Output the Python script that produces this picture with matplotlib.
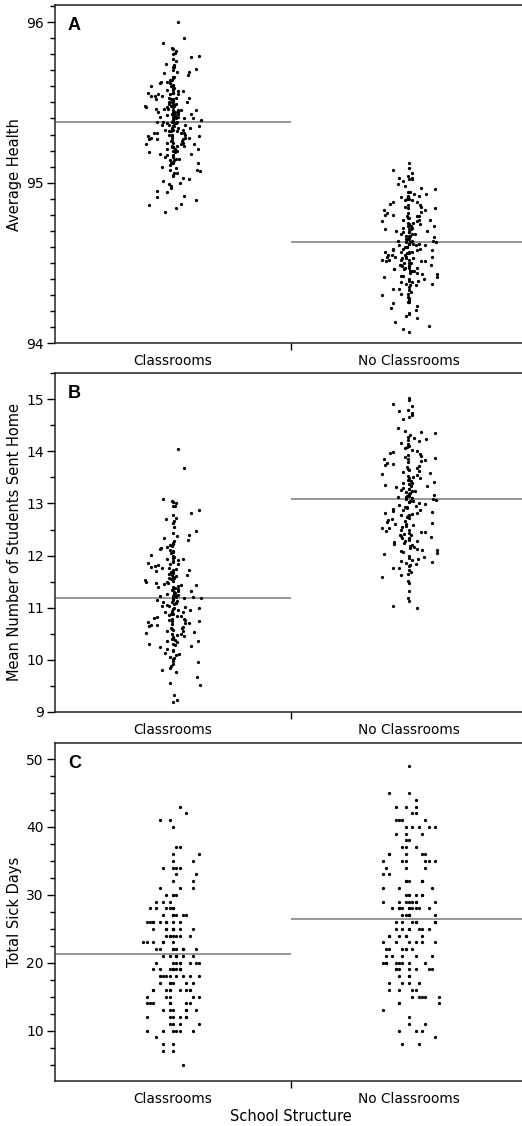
import numpy as np
import matplotlib
matplotlib.use("Agg")
import matplotlib.pyplot as plt
from matplotlib.ticker import MultipleLocator

groups = ["Classrooms", "No Classrooms"]

# Panel A: average health
health_classrooms = [
    96.00, 95.90, 95.87,
    95.84, 95.83, 95.82, 95.81, 95.80,
    95.79, 95.78, 95.77, 95.76,
    95.74, 95.73, 95.72, 95.72, 95.71, 95.70,
    95.69, 95.69, 95.68, 95.67, 95.66, 95.66, 95.65,
    95.64, 95.64, 95.63, 95.63, 95.62, 95.62, 95.61, 95.61, 95.60, 95.60,
    95.59, 95.59, 95.58, 95.58, 95.57, 95.57, 95.56, 95.56, 95.56, 95.55, 95.55, 95.55,
    95.54, 95.54, 95.54, 95.53, 95.53, 95.53, 95.52, 95.52, 95.52, 95.51, 95.51, 95.50, 95.50, 95.50,
    95.49, 95.49, 95.49, 95.48, 95.48, 95.48, 95.47, 95.47, 95.47, 95.46, 95.46, 95.46,
    95.45, 95.45, 95.45, 95.45,
    95.44, 95.44, 95.44, 95.44, 95.43, 95.43, 95.43, 95.43, 95.42, 95.42, 95.42,
    95.41, 95.41, 95.41, 95.41, 95.40, 95.40, 95.40,
    95.39, 95.39, 95.39, 95.39, 95.38, 95.38, 95.38, 95.38, 95.37, 95.37, 95.37, 95.37,
    95.36, 95.36, 95.36, 95.35, 95.35, 95.35,
    95.34, 95.34, 95.34, 95.33, 95.33, 95.33, 95.33, 95.32, 95.32, 95.32,
    95.31, 95.31, 95.31, 95.31, 95.30, 95.30, 95.30,
    95.29, 95.29, 95.29, 95.28, 95.28, 95.28, 95.28, 95.27, 95.27, 95.27,
    95.26, 95.26, 95.26, 95.25, 95.25, 95.25,
    95.24, 95.24, 95.24, 95.23, 95.23, 95.23, 95.22, 95.22, 95.22, 95.21, 95.21, 95.21, 95.20, 95.20,
    95.19, 95.19, 95.18, 95.18, 95.17, 95.17, 95.16, 95.16, 95.15, 95.15,
    95.14, 95.14, 95.13, 95.13, 95.12, 95.12, 95.12, 95.11, 95.10,
    95.09, 95.08, 95.08, 95.07, 95.06, 95.06, 95.05,
    95.04, 95.03, 95.02, 95.01, 95.00,
    94.99, 94.98, 94.97, 94.95,
    94.94, 94.92, 94.91,
    94.89, 94.87, 94.86,
    94.84, 94.82,
]
health_no_classrooms = [
    95.12,
    95.09, 95.08, 95.06,
    95.04, 95.03, 95.03, 95.02, 95.02, 95.01,
    94.99, 94.98, 94.97, 94.96,
    94.94, 94.94, 94.93, 94.93, 94.92, 94.92, 94.91, 94.91, 94.90, 94.90,
    94.89, 94.89, 94.88, 94.88, 94.87, 94.86, 94.86, 94.85, 94.85,
    94.84, 94.84, 94.83, 94.83, 94.82, 94.81, 94.81, 94.80, 94.80,
    94.79, 94.79, 94.79, 94.78, 94.78, 94.77, 94.77, 94.77, 94.76, 94.76, 94.75, 94.75,
    94.74, 94.74, 94.74, 94.73, 94.73, 94.73, 94.72, 94.72, 94.71, 94.71, 94.71, 94.70, 94.70,
    94.69, 94.69, 94.69, 94.68, 94.68, 94.68, 94.67, 94.67, 94.67, 94.66, 94.66, 94.65, 94.65, 94.65,
    94.64, 94.64, 94.64, 94.63, 94.63, 94.63, 94.62, 94.62, 94.62, 94.62,
    94.61, 94.61, 94.61, 94.60, 94.60, 94.60,
    94.59, 94.59, 94.59, 94.58, 94.58, 94.58, 94.57, 94.57, 94.57, 94.57,
    94.56, 94.56, 94.56, 94.55, 94.55, 94.55,
    94.54, 94.54, 94.54, 94.54, 94.53, 94.53, 94.53, 94.52, 94.52, 94.52, 94.52,
    94.51, 94.51, 94.51, 94.50, 94.50, 94.50,
    94.49, 94.49, 94.49, 94.48, 94.48, 94.48, 94.47, 94.47, 94.47,
    94.46, 94.46, 94.46, 94.45, 94.45, 94.45,
    94.44, 94.44, 94.43, 94.43, 94.42, 94.42, 94.41, 94.41, 94.40, 94.40,
    94.39, 94.39, 94.38, 94.38, 94.37, 94.37, 94.36, 94.36, 94.35,
    94.34, 94.34, 94.33, 94.32, 94.31, 94.31, 94.30,
    94.29, 94.28, 94.27, 94.26, 94.26, 94.25,
    94.23, 94.22, 94.21,
    94.19, 94.18, 94.17, 94.16,
    94.13, 94.11,
    94.09, 94.07,
]

# Panel B: mean number of students sent home
sent_home_classrooms = [
    14.05, 13.68,
    13.08, 13.05, 13.02, 13.00,
    12.96, 12.95, 12.88, 12.82, 12.77,
    12.73, 12.70, 12.66, 12.62, 12.55,
    12.48, 12.44, 12.40, 12.37, 12.33, 12.30, 12.27,
    12.24, 12.22, 12.20, 12.18, 12.16, 12.14, 12.12, 12.10, 12.08, 12.06, 12.04, 12.01,
    11.99, 11.97, 11.96, 11.94, 11.93, 11.91, 11.89, 11.88,
    11.86, 11.84, 11.83, 11.81, 11.80, 11.78, 11.77, 11.76,
    11.74, 11.73, 11.72, 11.70, 11.69, 11.68, 11.66, 11.65, 11.63,
    11.62, 11.60, 11.59, 11.57, 11.56, 11.54, 11.53, 11.52, 11.50,
    11.49, 11.48, 11.47, 11.45, 11.44, 11.43, 11.42, 11.40, 11.39, 11.38,
    11.36, 11.35, 11.34, 11.32, 11.31, 11.30, 11.29, 11.27, 11.26, 11.25,
    11.24, 11.23, 11.22, 11.21, 11.20, 11.19, 11.18, 11.17, 11.16, 11.15, 11.14,
    11.12, 11.11, 11.10, 11.09, 11.08, 11.07, 11.05, 11.04, 11.03, 11.02, 11.00,
    10.99, 10.98, 10.96, 10.95, 10.94, 10.92, 10.91, 10.90, 10.88, 10.87,
    10.86, 10.84, 10.83, 10.82, 10.80, 10.79, 10.78, 10.77, 10.76, 10.75,
    10.74, 10.73, 10.71, 10.70, 10.68, 10.67, 10.66, 10.64, 10.63,
    10.61, 10.60, 10.59, 10.57, 10.56, 10.55, 10.53, 10.52, 10.50,
    10.49, 10.47, 10.45, 10.43, 10.42, 10.40, 10.38, 10.36, 10.35, 10.33, 10.31, 10.30, 10.28, 10.26,
    10.24, 10.21, 10.19, 10.16, 10.13, 10.11, 10.09, 10.06, 10.03, 10.01,
    9.98, 9.95, 9.91, 9.87, 9.84, 9.80, 9.77,
    9.66, 9.55, 9.52,
    9.32,
    9.22, 9.18,
]
sent_home_no_classrooms = [
    15.03, 14.98, 14.92, 14.88, 14.80, 14.77,
    14.73, 14.70, 14.66, 14.62,
    14.45, 14.40, 14.38, 14.35, 14.31, 14.28, 14.26,
    14.24, 14.22, 14.20, 14.17, 14.14, 14.10, 14.08, 14.06, 14.03, 14.01,
    13.99, 13.97, 13.95, 13.94, 13.92, 13.90, 13.88, 13.86, 13.85, 13.83, 13.81, 13.79, 13.78, 13.76,
    13.74, 13.72, 13.70, 13.68, 13.66, 13.64, 13.62, 13.60, 13.58, 13.56, 13.54, 13.52, 13.50,
    13.49, 13.48, 13.46, 13.45, 13.43, 13.42, 13.40, 13.39, 13.37,
    13.36, 13.34, 13.33, 13.31, 13.30, 13.28, 13.27, 13.26,
    13.24, 13.23, 13.22, 13.20, 13.19, 13.18, 13.17, 13.15, 13.14, 13.13,
    13.12, 13.10, 13.09, 13.08, 13.07, 13.05, 13.04, 13.03, 13.02, 13.00,
    12.99, 12.97, 12.96, 12.94, 12.93, 12.91, 12.90, 12.88, 12.87,
    12.85, 12.84, 12.82, 12.81, 12.80, 12.78, 12.77, 12.76,
    12.74, 12.72, 12.70, 12.68, 12.67, 12.65, 12.63, 12.61,
    12.60, 12.58, 12.56, 12.55, 12.53, 12.52, 12.50,
    12.49, 12.48, 12.46, 12.45, 12.43, 12.42, 12.40, 12.39, 12.37,
    12.36, 12.34, 12.33, 12.31, 12.30, 12.28, 12.27, 12.26,
    12.24, 12.22, 12.20, 12.19, 12.17, 12.15, 12.13, 12.11, 12.10, 12.08, 12.06, 12.04, 12.02, 12.00,
    11.98, 11.96, 11.93, 11.91, 11.89, 11.87, 11.85, 11.83, 11.81, 11.79, 11.77, 11.76,
    11.72, 11.68, 11.65, 11.62, 11.58, 11.52,
    11.47, 11.32,
    11.18, 11.12, 11.03, 10.99,
]

# Panel C: total sick days (whole numbers, value -> how many schools)
sick_values_classrooms = [43, 42, 41, 40, 37, 36, 35, 34, 33, 32, 31, 30, 29, 28, 27, 26, 25, 24,
                          23, 22, 21, 20, 19, 18, 17, 16, 15, 14, 13, 12, 11, 10, 9, 8, 7, 5]
sick_counts_classrooms = [1, 1, 2, 1, 2, 2, 2, 4, 2, 2, 3, 4, 3, 7, 6, 9, 8, 7,
                          6, 9, 7, 8, 10, 8, 6, 9, 5, 7, 6, 6, 4, 6, 1, 2, 2, 1]
sick_values_no_classrooms = [49, 45, 44, 43, 42, 41, 40, 39, 38, 37, 36, 35, 34, 33, 32, 31, 30, 29,
                             28, 27, 26, 25, 24, 23, 22, 21, 20, 19, 18, 17, 16, 15, 14, 13, 12,
                             11, 10, 9, 8]
sick_counts_no_classrooms = [1, 2, 1, 3, 2, 4, 5, 3, 2, 3, 5, 6, 3, 2, 6, 3, 6, 8,
                             10, 6, 7, 7, 6, 6, 6, 5, 8, 7, 3, 4, 4, 5, 3, 1, 1,
                             2, 3, 1, 2]

health_means = [95.38, 94.63]
sent_home_means = [11.19, 13.08]
sick_days_means = [21.3, 26.45]


def scramble(k, a, b):
    # hash-like fractional sequence, only used to place points sideways
    return (np.sin(k * a + b) * 43758.5453) % 1.0


def jitter(n, seed, width=0.12, step=None, power=2.6):
    # spread points around the category centre, most of them close to the middle
    k = np.arange(n) + seed
    u = scramble(k, 12.9898, 0.7)
    side = np.where(scramble(k, 78.233, 1.9) < 0.5, -1.0, 1.0)
    off = side * width * u ** power
    if step:
        off = np.round(off / step) * step
    return off


def draw_panel(ax, series, means, ylim, major, minor, ylabel, letter, step=None, power=2.6):
    for i, vals in enumerate(series):
        vals = np.asarray(vals, dtype=float)
        ax.scatter(i + jitter(len(vals), seed=97 * i + 5, step=step, power=power), vals,
                   s=5.5, c="black", linewidths=0, zorder=3)
        ax.hlines(means[i], i - 0.5, i + 0.5, color="#858585", lw=1.2, zorder=2)

    ax.set_xlim(-0.5, 1.5)
    ax.set_ylim(*ylim)
    ax.yaxis.set_major_locator(MultipleLocator(major))
    ax.yaxis.set_minor_locator(MultipleLocator(minor))
    ax.tick_params(axis="y", which="major", length=6, width=1, labelsize=10, pad=2)
    ax.tick_params(axis="y", which="minor", length=3.5, width=1)

    ax.set_xticks([0, 1])
    ax.set_xticklabels(groups)
    ax.set_xticks([0.5], minor=True)
    ax.tick_params(axis="x", which="major", length=0, labelsize=9.9, pad=8)
    ax.tick_params(axis="x", which="minor", length=5, width=1)

    ax.spines["right"].set_visible(False)
    for side in ["left", "bottom", "top"]:
        ax.spines[side].set_linewidth(1.1)
        ax.spines[side].set_color("#222222")

    ax.set_ylabel(ylabel, fontsize=10.5)
    ax.yaxis.set_label_coords(-0.069, 0.5)
    ax.text(0.027, 0.965, letter, transform=ax.transAxes, fontsize=13,
            fontweight="bold", va="top", ha="left", family="Liberation Sans")


fig = plt.figure(figsize=(5.22, 11.26), dpi=100)
left, width, height = 0.1054, 0.904, 0.3004
ax_a = fig.add_axes([left, 0.6951, width, height])
ax_b = fig.add_axes([left, 0.3679, width, 0.3008])
ax_c = fig.add_axes([left, 0.0400, width, height])

draw_panel(ax_a, [health_classrooms, health_no_classrooms], health_means,
           (94, 96.106), 1, 0.1, "Average Health", "A")
draw_panel(ax_b, [sent_home_classrooms, sent_home_no_classrooms], sent_home_means,
           (9, 15.505), 1, 0.5, "Mean Number of Students Sent Home", "B")

sick_classrooms = np.repeat(sick_values_classrooms, sick_counts_classrooms)
sick_no_classrooms = np.repeat(sick_values_no_classrooms, sick_counts_no_classrooms)
draw_panel(ax_c, [sick_classrooms, sick_no_classrooms], sick_days_means,
           (2.58, 52.4), 10, 2.5, "Total Sick Days", "C", step=0.014, power=1.8)
ax_c.set_xlabel("School Structure", fontsize=10.5, labelpad=2)

fig.savefig("out.png", dpi=100)
